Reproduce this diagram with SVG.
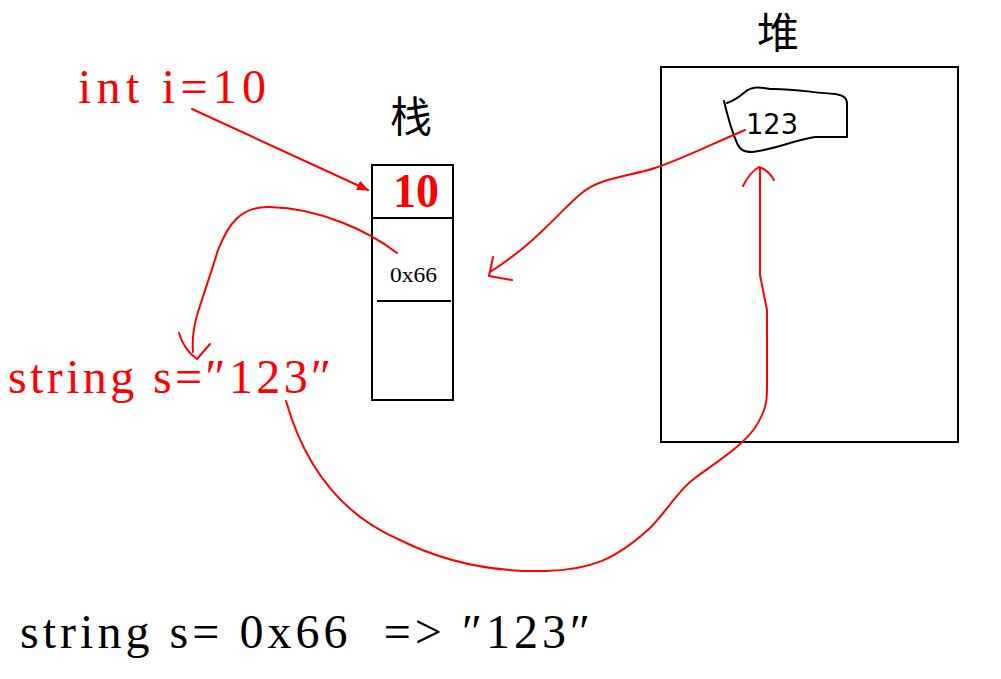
<svg xmlns="http://www.w3.org/2000/svg" width="1001" height="679" viewBox="0 0 1001 679">
<style>
.box{fill:none;stroke:#000;stroke-width:2}
.ink{fill:none;stroke:#000;stroke-width:2;stroke-linecap:round;stroke-linejoin:round}
.red{fill:none;stroke:#ff0000;stroke-width:2;stroke-linecap:round;stroke-linejoin:round}
.code{font-family:"Liberation Serif","DejaVu Serif",serif;font-size:48px;white-space:pre}
.cjk{font-family:"Noto Sans CJK SC","Noto Sans CJK JP",sans-serif;font-size:42px;fill:#000}
</style>
<defs>
<marker id="tri" markerWidth="12" markerHeight="10" refX="11" refY="5" orient="auto" markerUnits="userSpaceOnUse">
<path d="M0,0 L12,5 L0,10 Z" fill="#ff0000"/>
</marker>
</defs>
<rect width="1001" height="679" fill="#fff"/>

<g id="label-int">
<text class="code" x="78" y="103" fill="#ff0000" textLength="188" lengthAdjust="spacing">int i=10</text>
</g>
<g id="label-string">
<text class="code" x="8" y="393" fill="#ff0000" textLength="323" lengthAdjust="spacing">string s=″123″</text>
</g>
<g id="label-bottom">
<text class="code" x="20" y="648" fill="#000" textLength="570" lengthAdjust="spacing" xml:space="preserve">string s= 0x66  =&gt; ″123″</text>
</g>

<g id="stack">
<text class="cjk" x="390" y="132" font-size="44">栈</text>
<rect class="box" x="372" y="165" width="81" height="235"/>
<line class="box" x1="372" y1="218" x2="453" y2="218"/>
<line class="box" x1="377" y1="301" x2="451" y2="301"/>
<text x="393" y="207" fill="#ff0000" font-family="Liberation Serif, serif" font-weight="bold" font-size="48" textLength="46" lengthAdjust="spacingAndGlyphs">10</text>
<text x="390" y="282" fill="#000" font-family="Liberation Serif, serif" font-size="22" textLength="47" lengthAdjust="spacingAndGlyphs">0x66</text>
</g>

<g id="heap">
<text class="cjk" x="757" y="48" font-size="40">堆</text>
<rect class="box" x="661" y="67" width="297" height="375"/>
<path class="ink" d="M724,101 C728,118 732,132 737,143 C740,150 744,152 752,152 C772,150 795,140 815,137 L847,137 L847,104 C847,97 842,95 835,94 C815,93 790,88 770,89 C760,87 752,86 745,92 C738,98 733,101 727,103"/>
<text x="746" y="134" fill="#000" font-family="DejaVu Sans, sans-serif" font-size="28" textLength="52" lengthAdjust="spacingAndGlyphs">123</text>
</g>

<g id="connectors">
<path class="red" d="M192,109 L368,190" marker-end="url(#tri)"/>
<path class="red" d="M397,253 C370,232 320,208 270,207 C240,206 228,225 218,250 C212,270 205,290 198,312 C194,325 192,340 193,352"/>
<path class="red" d="M179,333 Q184,350 197,359 L210,344"/>
<path class="red" d="M745,130 C710,145 680,160 655,168 C630,176 600,178 583,192 C560,210 540,240 490,272"/>
<path class="red" d="M493,257 L489,276 L512,280"/>
<path class="red" d="M286,401 C300,450 330,510 400,540 C450,565 500,572 545,571 C590,570 615,560 650,528 C668,510 678,490 695,478 C725,456 752,440 762,415 C767,405 767,395 767,385 L767,310 L760,275 L760,168"/>
<path class="red" d="M743,186 Q750,172 759,167 Q768,170 774,180"/>
</g>
</svg>
